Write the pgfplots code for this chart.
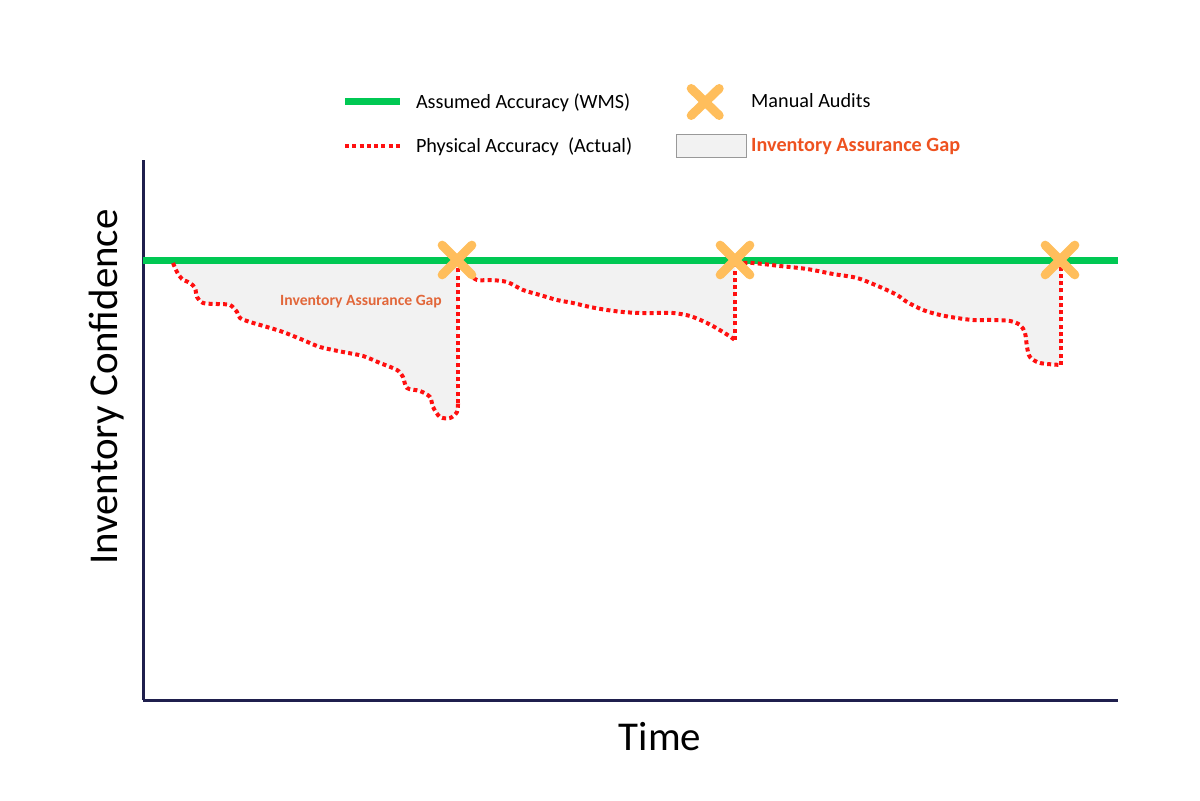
\documentclass[border=0pt]{standalone}
\usepackage{fontspec}
\setmainfont{Carlito}
\usepackage{pgfplots}
\pgfplotsset{compat=1.18}
\definecolor{wmsgreen}{HTML}{00C853}
\definecolor{actred}{HTML}{FF1010}
\definecolor{auditorange}{HTML}{FFBE5C}
\definecolor{gapgray}{HTML}{F2F2F2}
\definecolor{gaplabel}{HTML}{E2673A}
\definecolor{gaplegend}{HTML}{EE5220}
\definecolor{axisnavy}{HTML}{1F1F4D}
\begin{document}
\begin{tikzpicture}
\useasboundingbox (-2.86cm,-2cm) rectangle (21.14cm,14cm);
\begin{axis}[
  scale only axis, width=19.5cm, height=10.8cm,
  xmin=143, xmax=1118, ymin=0, ymax=540,
  axis x line*=bottom, axis y line*=left,
  axis line style={axisnavy, line width=0.06cm},
  xtick=\empty, ytick=\empty,
  clip=false,
  xlabel={Time}, ylabel={Inventory Confidence},
  label style={font=\fontsize{23.3}{28}\selectfont},
  xlabel style={at={(axis description cs:0.5303,-0.0685)}, anchor=center},
  ylabel style={at={(axis description cs:-0.0369,0.5796)}, anchor=center},
  legend columns=2,
  legend cell align=left,
  legend style={draw=none, fill=none, inner sep=0pt, outer sep=0pt,
    at={(axis description cs:0.20718,1.14815)}, anchor=north west,
    font=\fontsize{11.5}{13.8}\selectfont, column sep=0pt, row sep=0pt,
    nodes={inner sep=0pt}},
]
% gap fills
\addplot[fill=gapgray, draw=none, forget plot] coordinates {
(173,439) (177,428) (182,421) (190,417) (195,412) (197,403) (203,397) (217,396) (230,395) (237,388) (240,382) (250,378) (267,373) (283,368) (303,360) (320,353) (343,348) (363,344) (380,337) (397,330) (403,323) (407,312) (420,309) (430,303) (433,293) (440,283) (450,282) (457,288) (458,297) (458,439)} -- cycle;
\addplot[fill=gapgray, draw=none, forget plot] coordinates {
(458,439) (458,435) (468,427) (477,420) (490,420) (507,418) (523,410) (540,405) (557,400) (573,397) (590,393) (607,390) (623,388) (640,387) (657,387) (673,387) (690,384) (707,377) (723,368) (733,360) (735,360) (735,439)} -- cycle;
\addplot[fill=gapgray, draw=none, forget plot] coordinates {
(736,439) (753,437) (780,434) (807,431) (833,426) (857,422) (880,413) (897,405) (907,398) (923,390) (940,385) (957,382) (973,380) (993,380) (1010,379) (1020,375) (1025,367) (1027,353) (1030,343) (1040,337) (1060,335) (1061,335) (1061,439)} -- cycle;
% assumed accuracy
\addplot[wmsgreen, line width=0.14cm, forget plot] coordinates {(143,439) (1118,439)};
% physical accuracy
\pgfplotsset{reddot/.style={actred, line width=0.08cm, dash pattern=on 0.08cm off 0.065cm, forget plot}}
\addplot[reddot, smooth, tension=0.5] coordinates {
(173,437) (177,428) (182,421) (190,417) (195,412) (197,403) (203,397) (217,396) (230,395) (237,388) (240,382) (250,378) (267,373) (283,368) (303,360) (320,353) (343,348) (363,344) (380,337) (397,330) (403,323) (407,312) (420,309) (430,303) (433,293) (440,283) (450,282) (457,288) (458,297)};
\addplot[reddot] coordinates {(458,297) (458,437)};
\addplot[reddot, smooth, tension=0.5] coordinates {
(458,437) (468,427) (477,420) (490,420) (507,418) (523,410) (540,405) (557,400) (573,397) (590,393) (607,390) (623,388) (640,387) (657,387) (673,387) (690,384) (707,377) (723,368) (735,360)};
\addplot[reddot] coordinates {(735,360) (735,437)};
\addplot[reddot, smooth, tension=0.5] coordinates {
(736,437) (753,437) (780,434) (807,431) (833,426) (857,422) (880,413) (897,405) (907,398) (923,390) (940,385) (957,382) (973,380) (993,380) (1010,379) (1020,375) (1025,367) (1027,353) (1030,343) (1040,337) (1061,335)};
\addplot[reddot] coordinates {(1061,335) (1061,437)};
% manual audits
\addplot[only marks, mark=x, mark size=0.42cm, forget plot,
  mark options={auditorange, line width=0.18cm, line cap=round}]
  coordinates {(457,440) (735,440) (1060,440)};
\node[font=\fontsize{8.9}{10}\selectfont\bfseries, text=gaplabel] at (axis cs:361,398) {Inventory Assurance Gap};
% legend
\addlegendimage{legend image code/.code={\draw[overlay, wmsgreen, line width=0.14cm] (0cm,0cm) -- (1.1cm,0cm); \path[draw=none, fill=none] (0cm,-0.44cm) rectangle (1.42cm,0.44cm);}}
\addlegendentry{Assumed Accuracy (WMS)}
\addlegendimage{legend image code/.code={\draw[overlay, auditorange, line width=0.18cm, line cap=round] (0.30cm,-0.27cm) -- (0.86cm,0.27cm) (0.30cm,0.27cm) -- (0.86cm,-0.27cm); \path[draw=none, fill=none] (-0.88cm,-0.44cm) rectangle (1.5cm,0.44cm);}}
\addlegendentry{Manual Audits}
\addlegendimage{legend image code/.code={\draw[overlay, actred, line width=0.08cm, dash pattern=on 0.08cm off 0.065cm] (0cm,0cm) -- (1.1cm,0cm); \path[draw=none, fill=none] (0cm,-0.44cm) rectangle (1.42cm,0.44cm);}}
\addlegendentry{Physical Accuracy\ \ (Actual)}
\addlegendimage{legend image code/.code={\draw[overlay, fill=gapgray, draw=gray!80, line width=0.02cm] (0cm,-0.22cm) rectangle (1.4cm,0.22cm); \path[draw=none, fill=none] (-0.88cm,-0.44cm) rectangle (1.5cm,0.44cm);}}
\addlegendentry{\textcolor{gaplegend}{\bfseries Inventory Assurance Gap}}
\end{axis}
\end{tikzpicture}
\end{document}
